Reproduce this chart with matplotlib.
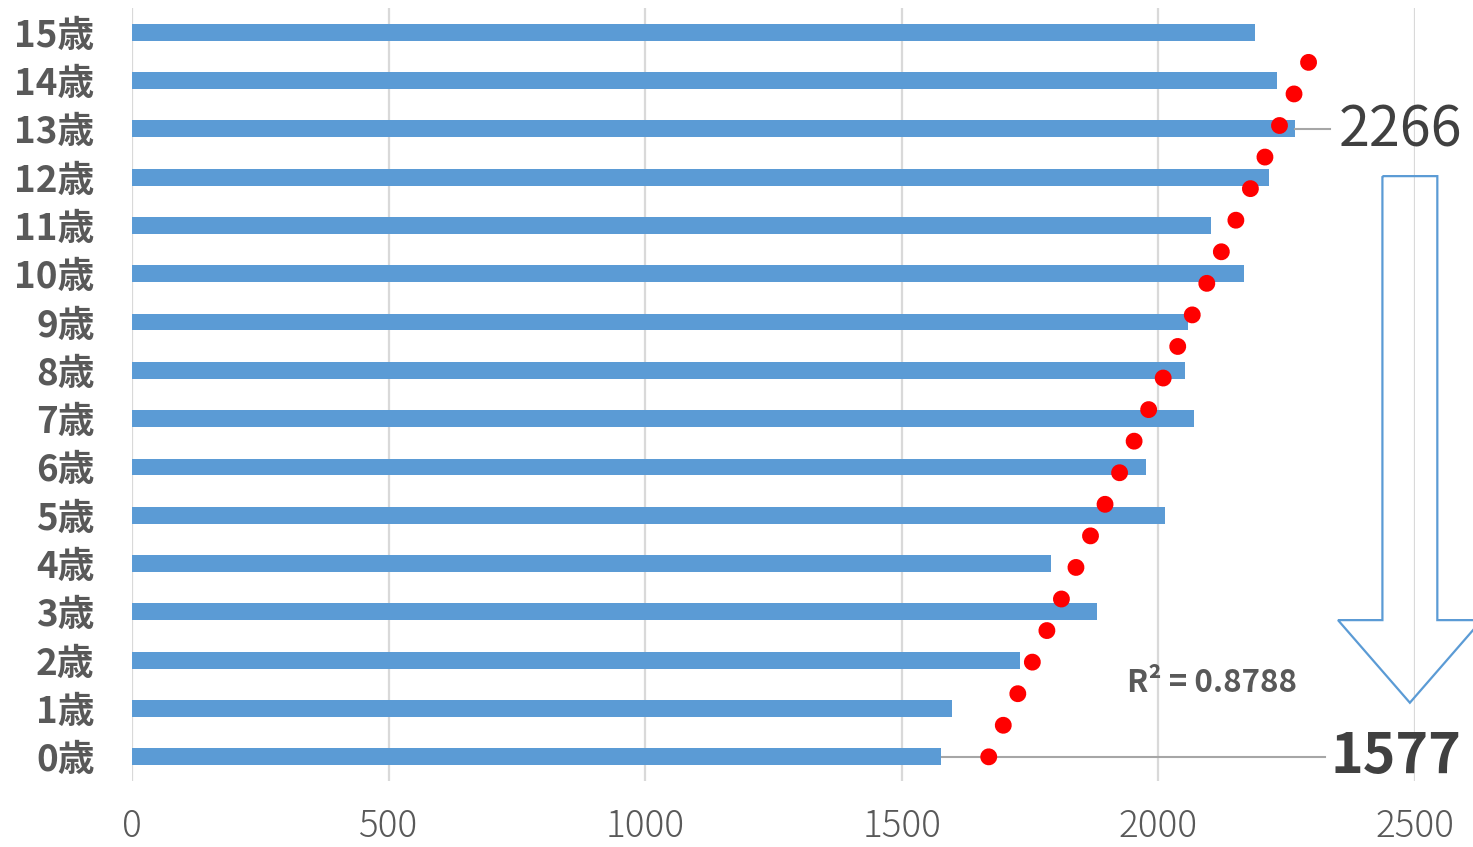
import numpy as np
import matplotlib
matplotlib.use("Agg")
import matplotlib.pyplot as plt
from matplotlib.patches import Polygon

plt.rcParams['font.family'] = ['Noto Sans CJK JP', 'DejaVu Sans']

# Ages 0..15 and their values
ages = ["0歳", "1歳", "2歳", "3歳", "4歳", "5歳", "6歳", "7歳",
        "8歳", "9歳", "10歳", "11歳", "12歳", "13歳", "14歳", "15歳"]
values = [1577, 1598, 1730, 1880, 1791, 2013, 1976, 2069,
          2052, 2058, 2167, 2102, 2215, 2266, 2231, 2188]
r_squared = 0.8788
x_ticks = [0, 500, 1000, 1500, 2000, 2500]

bar_color = "#5B9BD5"
grid_color = "#D9D9D9"

fig = plt.figure(figsize=(14.73, 8.47), dpi=100)
ax = fig.add_axes([132/1473, 1 - 781/847, (1415-132)/1473, (781-8)/847])

pos = np.arange(len(ages))
ax.barh(pos, values, height=0.35, color=bar_color, zorder=2)

# Linear trend line through the bar values
slope, intercept = np.polyfit(pos, values, 1)
ty = np.array([0, len(ages) - 1], dtype=float)
tx = intercept + slope * ty
ax.plot(tx, ty, color="red", linewidth=12.2, linestyle=(0, (0.001, 2.05)),
        dash_capstyle="round", solid_capstyle="round", zorder=4, clip_on=False)

ax.set_xlim(0, 2500)
ax.set_ylim(-0.5, 15.5)
ax.set_xticks(x_ticks)
ax.set_xticklabels([str(t) for t in x_ticks])
ax.set_yticks(pos)
ax.set_yticklabels(ages)
ax.xaxis.grid(True, color=grid_color, linewidth=1.6, zorder=0)
ax.set_axisbelow(True)
for s in ax.spines.values():
    s.set_visible(False)
ax.tick_params(axis="y", length=0, pad=27, labelsize=26.5, labelcolor="#595959")
ax.tick_params(axis="x", length=0, pad=19, labelsize=26.5, labelcolor="#595959")
for lbl in ax.get_yticklabels():
    lbl.set_fontweight("bold")
for lbl in ax.get_xticklabels():
    lbl.set_fontweight("light")

# Callouts for the lowest (0歳) and highest (13歳) values
i_hi = int(np.argmax(values))
i_lo = 0
ax.plot([values[i_hi], 2334], [i_hi, i_hi], color="#A6A6A6", linewidth=1.5,
        zorder=3, clip_on=False)
ax.plot([values[i_lo], 2325], [i_lo, i_lo], color="#A6A6A6", linewidth=1.5,
        zorder=1, clip_on=False)
ax.text(2471, i_hi - 0.04, f"{values[i_hi]}", fontsize=40, color="#404040",
        ha="center", va="center", clip_on=False, zorder=5)
ax.text(2462, i_lo, f"{values[i_lo]}", fontsize=40, color="#404040",
        fontweight="bold", ha="center", va="center", clip_on=False, zorder=5)

ax.text(2104, 1.53, f"R² = {r_squared:.4f}", fontsize=22.5, color="#595959",
        fontweight="bold", ha="center", va="center", zorder=5)

# Hollow down arrow from the high value to the low value
cx = 2490
sw = 107
hw = 140
y_top, y_neck, y_tip = 12.02, 2.83, 1.12
arrow = Polygon([(cx - sw/2, y_top), (cx + sw/2, y_top), (cx + sw/2, y_neck),
                 (cx + hw, y_neck), (cx, y_tip), (cx - hw, y_neck),
                 (cx - sw/2, y_neck)], closed=True, fill=False,
                edgecolor=bar_color, linewidth=1.6, clip_on=False, zorder=5)
ax.add_patch(arrow)

fig.savefig("out.png", dpi=100)
